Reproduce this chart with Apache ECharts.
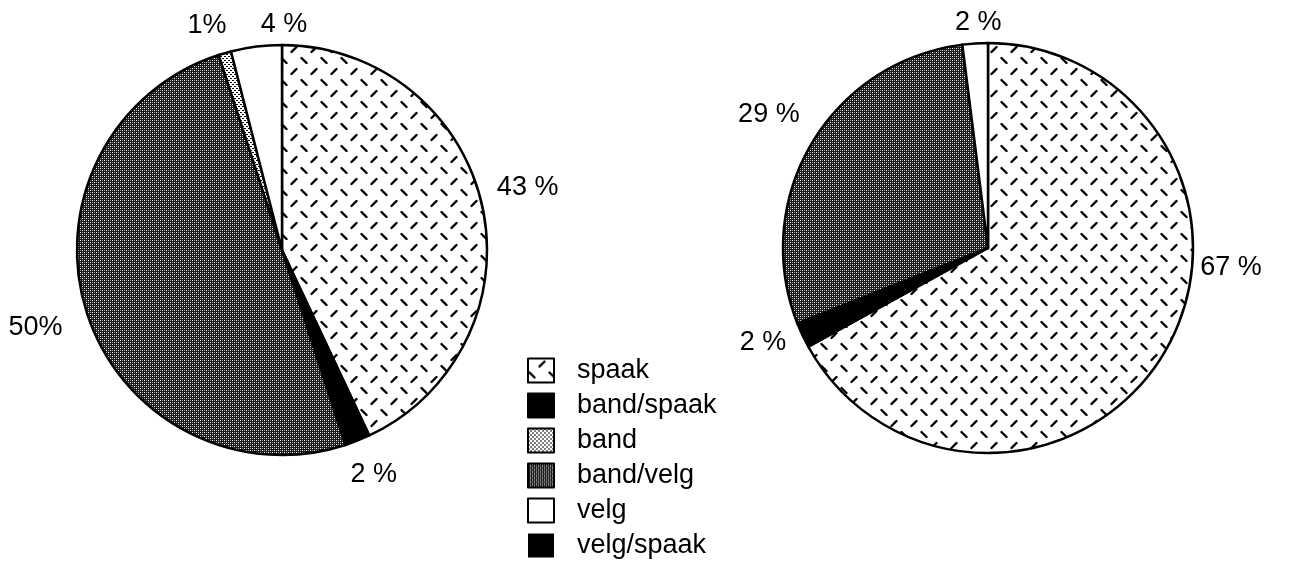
<!DOCTYPE html>
<html>
<head>
<meta charset="utf-8">
<script src="https://cdn.jsdelivr.net/npm/echarts@6/dist/echarts.min.js"></script>
<style>
  html, body { margin: 0; padding: 0; background: #fff; }
  #main { width: 1294px; height: 562px; }
</style>
</head>
<body>
<div id="main"></div>
<script>
// legend order
var legendNames = ['spaak', 'band/spaak', 'band', 'band/velg', 'velg', 'velg/spaak'];

// linker taart (met de klok mee vanaf boven)
var leftNames = ['spaak', 'band/spaak', 'band/velg', 'band', 'velg', 'velg/spaak'];
var leftValues = [43, 2, 50, 1, 4, 0];
var leftLabels = ['43 %', '2 %', '50%', '1%', '4 %', ''];

// rechter taart
var rightNames = ['spaak', 'band/spaak', 'band/velg', 'velg'];
var rightValues = [67, 2, 29, 2];
var rightLabels = ['67 %', '2 %', '29 %', '2 %'];

// verschuiving van de labels t.o.v. de standaardplek
var labelShift = [
    [[7, -16], [-10, 27], [-17, 12], [4, -20], [52, -14], [0, 0]],
    [[29, -89], [-9, 4], [-5, -25], [27, -13]]
];

// patronen maken
function makeTile(w, h, draw) {
    var c = document.createElement('canvas');
    c.width = w;
    c.height = h;
    var ctx = c.getContext('2d');
    draw(ctx);
    return { image: c, repeat: 'repeat' };
}

var dashPattern = makeTile(20, 22, function (ctx) {
    ctx.fillStyle = '#fff';
    ctx.fillRect(0, 0, 20, 22);
    ctx.strokeStyle = '#000';
    ctx.lineWidth = 2.4;
    ctx.lineCap = 'round';
    ctx.beginPath();
    ctx.moveTo(11.5, 8);
    ctx.lineTo(16.5, 3);
    ctx.moveTo(1.5, 14);
    ctx.lineTo(6.5, 19);
    ctx.stroke();
});

var darkDots = makeTile(4, 4, function (ctx) {
    ctx.fillStyle = '#1a1a1a';
    ctx.fillRect(0, 0, 4, 4);
    ctx.fillStyle = '#fff';
    ctx.fillRect(0, 0, 1, 1);
    ctx.fillRect(2, 2, 1, 1);
    ctx.fillStyle = '#999';
    ctx.fillRect(2, 0, 1, 1);
    ctx.fillRect(0, 2, 1, 1);
});

var lightDots = makeTile(4, 4, function (ctx) {
    ctx.fillStyle = '#fff';
    ctx.fillRect(0, 0, 4, 4);
    ctx.fillStyle = '#000';
    ctx.fillRect(0, 0, 2, 1);
    ctx.fillRect(2, 2, 2, 1);
});

var fills = {
    'spaak': dashPattern,
    'band/spaak': '#000',
    'band': lightDots,
    'band/velg': darkDots,
    'velg': '#fff',
    'velg/spaak': '#000'
};

function buildData(names, values, labels) {
    var out = [];
    for (var i = 0; i < names.length; i++) {
        var item = {
            name: names[i],
            value: values[i],
            itemStyle: { color: fills[names[i]] },
            label: { formatter: labels[i] }
        };
        if (values[i] === 0) {
            item.label.show = false;
            item.itemStyle.borderWidth = 0;
        }
        out.push(item);
    }
    return out;
}

function pieSeries(center, data) {
    return {
        type: 'pie',
        center: center,
        radius: 205,
        startAngle: 90,
        clockwise: true,
        avoidLabelOverlap: false,
        emphasis: { disabled: true },
        itemStyle: { borderColor: '#000', borderWidth: 2.5 },
        label: {
            show: true,
            position: 'outside',
            distanceToLabelLine: 0,
            color: '#000',
            fontFamily: 'Liberation Sans',
            fontSize: 27
        },
        labelLine: { show: false, length: 8, length2: 0 },
        labelLayout: function (params) {
            var s = labelShift[params.seriesIndex][params.dataIndex];
            return { dx: s[0], dy: s[1] };
        },
        data: data
    };
}

var myChart = echarts.init(document.getElementById('main'));
var option = {
    animation: false,
    legend: {
        orient: 'vertical',
        left: 522,
        top: 352,
        height: 240,
        itemWidth: 26,
        itemHeight: 24,
        itemGap: 8,
        icon: 'rect',
        selectedMode: false,
        data: legendNames,
        textStyle: {
            color: '#000',
            fontFamily: 'Liberation Sans',
            fontSize: 27,
            padding: [0, 0, 0, 18]
        }
    },
    series: [
        pieSeries([282, 250], buildData(leftNames, leftValues, leftLabels)),
        pieSeries([988, 248], buildData(rightNames, rightValues, rightLabels))
    ]
};
myChart.setOption(option);
</script>
</body>
</html>
